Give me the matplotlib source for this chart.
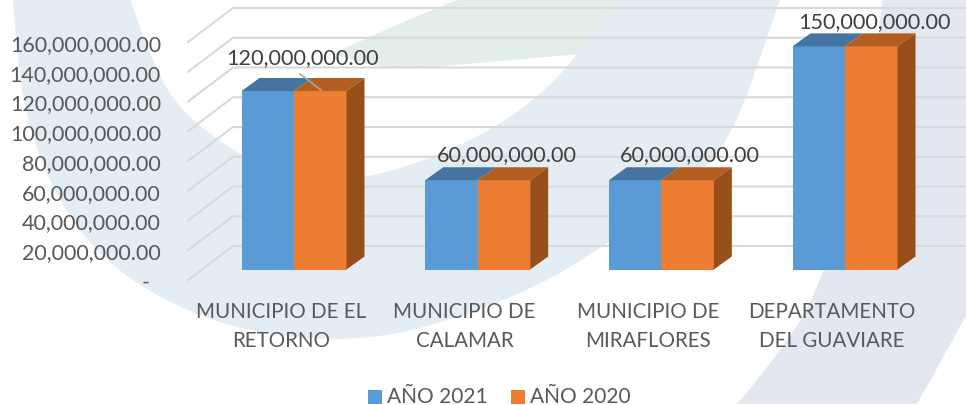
import matplotlib
matplotlib.use('Agg')
import matplotlib.pyplot as plt
from matplotlib.patches import Polygon, PathPatch
from matplotlib.path import Path

categories = ['MUNICIPIO DE EL\nRETORNO', 'MUNICIPIO DE\nCALAMAR', 'MUNICIPIO DE\nMIRAFLORES', 'DEPARTAMENTO\nDEL GUAVIARE']
anio_2021 = [120000000, 60000000, 60000000, 150000000]
anio_2020 = [120000000, 60000000, 60000000, 150000000]
data_labels = ['120,000,000.00', '60,000,000.00', '60,000,000.00', '150,000,000.00']
y_ticks = [0, 20000000, 40000000, 60000000, 80000000, 100000000, 120000000, 140000000, 160000000]
y_tick_labels = ['-  ', '20,000,000.00', '40,000,000.00', '60,000,000.00', '80,000,000.00',
                 '100,000,000.00', '120,000,000.00', '140,000,000.00', '160,000,000.00']

W, H = 966, 406
plt.rcParams['font.family'] = ['Lato', 'DejaVu Sans']

fig = plt.figure(figsize=(W / 100, H / 100), dpi=100)


def curve(edges):
    # each edge is an open list of points, smoothed with quadratic segments
    verts, codes = [], []
    for pts in edges:
        verts.append(pts[0])
        codes.append(Path.LINETO if verts[:-1] else Path.MOVETO)
        for i in range(1, len(pts) - 1):
            if i < len(pts) - 2:
                end = ((pts[i][0] + pts[i + 1][0]) / 2, (pts[i][1] + pts[i + 1][1]) / 2)
            else:
                end = pts[i + 1]
            verts += [pts[i], end]
            codes += [Path.CURVE3, Path.CURVE3]
    verts.append(verts[0])
    codes.append(Path.CLOSEPOLY)
    return Path(verts, codes)


# background swooshes, in pixels
bg = fig.add_axes([0, 0, 1, 1], zorder=0)
bg.set_xlim(0, W)
bg.set_ylim(H, 0)
bg.axis('off')
outer = [(13, 0), (18, 70), (30, 133), (57, 200), (100, 258), (160, 300), (230, 328), (300, 340), (370, 340),
         (440, 325), (533, 290), (600, 250), (660, 205), (700, 177), (733, 133), (760, 60), (780, 0)]
inner = [(617, 0), (580, 57), (517, 117), (433, 160), (350, 183), (290, 178), (240, 157), (177, 110), (148, 53), (130, 0)]
bg.add_patch(PathPatch(curve([outer, [(780, 0), (617, 0)], inner, [(130, 0), (13, 0)]]), fc='#e4ecf4', ec='none'))
leaf_top = [(333, 55), (400, 23), (460, 0)]
leaf_bottom = [(580, 55), (467, 65), (383, 72), (333, 55)]
bg.add_patch(PathPatch(curve([leaf_top, [(460, 0), (617, 0)], [(617, 0), (580, 55)], leaf_bottom]), fc='#e4eee8', ec='none'))
right_in = [(883, 0), (865, 130), (827, 270), (790, 343), (737, 405)]
right_out = [(917, 405), (945, 355), (966, 317)]
bg.add_patch(PathPatch(curve([right_in, [(737, 405), (917, 405)], right_out, [(966, 317), (966, 0)], [(966, 0), (883, 0)]]),
                       fc='#e3e7f0', ec='none'))

# front plane of the chart: value 0 at y=281, 160M at y=43
ax = fig.add_axes([188 / W, (H - 281) / H, (W - 188) / W, (281 - 43) / H], zorder=1)
ax.patch.set_alpha(0)
ax.set_ylim(0, 160000000)
unit = 183.67
ax.set_xlim((188 - 294) / unit, (966 - 294) / unit)
px_x = 1 / unit
px_y = 160000000 / 238


def depth(x, y, dx_px, dy_px):
    return x + dx_px * px_x, y + dy_px * px_y


for v in y_ticks:
    x0 = ax.get_xlim()[0]
    x1, y1 = depth(x0, v, 45, 34)
    ax.plot([x0, x1, ax.get_xlim()[1] + 1], [v, y1, y1], color='#d9d9d9', lw=1.5, clip_on=False, zorder=1)

bar_w = 52.5 * px_x
base = 10.5 * px_y
dx, dy = 18, 13


def bar3d(x, v, front, top, side=None):
    ax.bar(x, v, bar_w, bottom=base, color=front, align='edge', zorder=3, clip_on=False)
    y = base + v
    ax.add_patch(Polygon([(x, y), depth(x, y, dx, dy), depth(x + bar_w, y, dx, dy), (x + bar_w, y)],
                         closed=True, fc=top, ec='none', zorder=3, clip_on=False))
    if side:
        ax.add_patch(Polygon([(x + bar_w, base), depth(x + bar_w, base, dx, dy), depth(x + bar_w, y, dx, dy), (x + bar_w, y)],
                             closed=True, fc=side, ec='none', zorder=3, clip_on=False))


for i in range(len(categories)):
    bar3d(i - bar_w, anio_2021[i], '#5b9bd5', '#4574a0')
    bar3d(i, anio_2020[i], '#ed7d31', '#b35e20', '#974f1c')

ax.set_yticks(y_ticks)
ax.set_yticklabels(y_tick_labels)
ax.set_xticks([i - 13 * px_x for i in range(len(categories))])
ax.set_xticklabels(categories, linespacing=1.55)
ax.tick_params(axis='y', length=0, pad=27 * 0.72, labelsize=15.5, labelcolor='#595959')
ax.tick_params(axis='x', length=0, pad=15, labelsize=14.8, labelcolor='#595959')
for s in ax.spines.values():
    s.set_visible(False)

# data labels
label_y = [58, 155, 155, 22]
label_x = [302, 507, 690, 874]
for t, lx, ly in zip(data_labels, label_x, label_y):
    fig.text(lx / W, 1 - ly / H, t, ha='center', va='center', fontsize=15.6, color='#404040', zorder=5)
# leader line
ax.plot([(300 - 294) * px_x, (321 - 294) * px_x], [(281 - 75) * px_y, (281 - 91) * px_y],
        color='#a6a6a6', lw=1.2, zorder=4, clip_on=False)

# legend
for x, lab, c in [(368, 'AÑO 2021', '#5b9bd5'), (511, 'AÑO 2020', '#ed7d31')]:
    bg.add_patch(Polygon([(x, 391), (x + 14, 391), (x + 14, 405), (x, 405)], closed=True, fc=c, ec='none'))
    bg.text(x + 19, 397, lab, ha='left', va='center', fontsize=15, color='#595959')

fig.savefig('out.png', dpi=100)
